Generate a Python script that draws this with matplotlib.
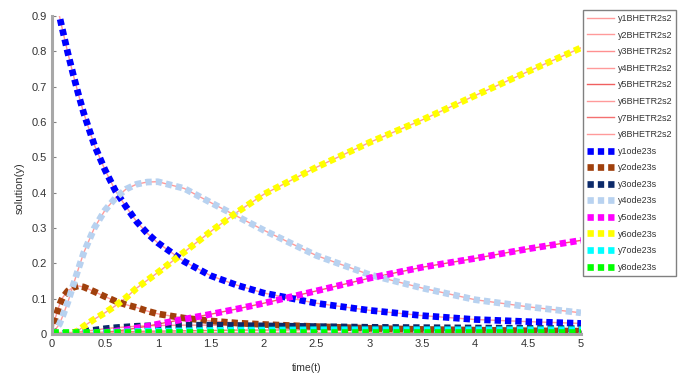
import matplotlib
matplotlib.use('Agg')
import matplotlib.pyplot as plt
import numpy as np

plt.rcParams['font.family'] = ['Liberation Sans', 'DejaVu Sans']

t = [0, 0.03, 0.07, 0.1, 0.15, 0.2, 0.25, 0.3, 0.4, 0.5, 0.6, 0.7, 0.8, 0.9,
     1.0, 1.25, 1.5, 1.75, 2.0, 2.5, 3.0, 3.5, 4.0, 4.5, 5.0]

y1 = [1.0, 0.957, 0.9, 0.86, 0.795, 0.735, 0.678, 0.625, 0.535, 0.465, 0.405, 0.36, 0.318, 0.285,
      0.258, 0.205, 0.165, 0.138, 0.116, 0.087, 0.067, 0.052, 0.041, 0.035, 0.03]
y2 = [0.0, 0.044, 0.082, 0.103, 0.122, 0.132, 0.136, 0.133, 0.12, 0.106, 0.093, 0.083, 0.075, 0.065,
      0.057, 0.045, 0.037, 0.031, 0.027, 0.021, 0.016, 0.013, 0.011, 0.009, 0.008]
y3 = [0.0, 0.0, 0.0, 0.001, 0.002, 0.004, 0.006, 0.008, 0.011, 0.015, 0.018, 0.02, 0.022, 0.023,
      0.024, 0.025, 0.025, 0.024, 0.023, 0.021, 0.019, 0.018, 0.017, 0.016, 0.015]
y4 = [0.0, 0.012, 0.028, 0.05, 0.09, 0.138, 0.185, 0.23, 0.3, 0.35, 0.385, 0.41, 0.424, 0.43,
      0.431, 0.412, 0.372, 0.333, 0.294, 0.222, 0.168, 0.13, 0.097, 0.077, 0.06]
y5 = [0.0, 0.0, 0.0, 0.0, 0.0, 0.0, 0.0, 0.001, 0.003, 0.005, 0.008, 0.012, 0.017, 0.022,
      0.028, 0.042, 0.056, 0.071, 0.087, 0.122, 0.158, 0.189, 0.214, 0.241, 0.265]
y6 = [0.0, 0.0, 0.0, 0.0, 0.0, 0.003, 0.01, 0.022, 0.042, 0.06, 0.08, 0.103, 0.13, 0.152,
      0.174, 0.232, 0.29, 0.345, 0.395, 0.472, 0.542, 0.606, 0.675, 0.743, 0.81]
y7 = [0.0, 0.0, 0.0, 0.0, 0.001, 0.001, 0.002, 0.002, 0.003, 0.004, 0.005, 0.006, 0.007, 0.008,
      0.008, 0.009, 0.01, 0.011, 0.011, 0.012, 0.012, 0.012, 0.012, 0.012, 0.012]
y8 = [0.007, 0.007, 0.007, 0.007, 0.007, 0.007, 0.007, 0.007, 0.007, 0.007, 0.007, 0.007, 0.007, 0.007,
      0.007, 0.007, 0.007, 0.007, 0.007, 0.007, 0.007, 0.007, 0.007, 0.007, 0.007]

sols = [y1, y2, y3, y4, y5, y6, y7, y8]
ode_colors = ['#0000ff', '#a0400c', '#0c2a6a', '#b8d2f0', '#ff00ff', '#ffff00', '#00ffff', '#00ff00']
red_colors = ['#ff9a9a', '#ff9a9a', '#ff9090', '#ff9a9a', '#f06060', '#ff9a9a', '#f47070', '#ff9a9a']

fig = plt.figure(figsize=(6.8, 3.77), dpi=100)
ax = fig.add_axes([52 / 680, 1 - 334 / 377, 529 / 680, 318 / 377])

# BHETR solutions as thin red lines, ode23s on top as heavy dotted lines
for i, y in enumerate(sols):
    ax.plot(t, y, color=red_colors[i], lw=1.0, label='y%dBHETR2s2' % (i + 1))
for i, y in enumerate(sols):
    ax.plot(t, y, color=ode_colors[i], lw=4.8, ls=(0, (0.95, 0.6)),
            dash_capstyle='butt', label='y%dode23s' % (i + 1))

ax.set_xlim(0, 5)
ax.set_ylim(0, 0.9)
ax.set_xticks(np.arange(0, 5.01, 0.5))
ax.set_xticklabels(['0', '0.5', '1', '1.5', '2', '2.5', '3', '3.5', '4', '4.5', '5'])
ax.set_yticks(np.arange(0, 0.91, 0.1))
ax.set_yticklabels(['0', '0.1', '0.2', '0.3', '0.4', '0.5', '0.6', '0.7', '0.8', '0.9'])
ax.tick_params(direction='in', length=3, color='#808080', labelsize=8, labelcolor='#333333')
for s in ['top', 'right']:
    ax.spines[s].set_visible(False)
for s in ['left', 'bottom']:
    ax.spines[s].set_color('#a8a8a8')
    ax.spines[s].set_linewidth(2.2)

fig.text(307 / 680, 1 - 368 / 377, 'time(t)', ha='center', va='center', fontsize=7.5, color='#333333')
fig.text(20 / 680, 0.5, 'solution(y)', ha='center', va='center', rotation=90,
         fontsize=8, color='#333333')

leg = fig.legend(loc='upper left', bbox_to_anchor=(583 / 680, 1 - 10 / 377), fontsize=6.5,
                 labelspacing=0.84, handlelength=3.0, handletextpad=0.4, borderpad=0.45,
                 borderaxespad=0, fancybox=False, framealpha=1)
leg.get_frame().set_edgecolor('#808080')
leg.get_frame().set_linewidth(1.0)
for txt in leg.get_texts():
    txt.set_color('#333333')

fig.savefig('out.png', dpi=100)
